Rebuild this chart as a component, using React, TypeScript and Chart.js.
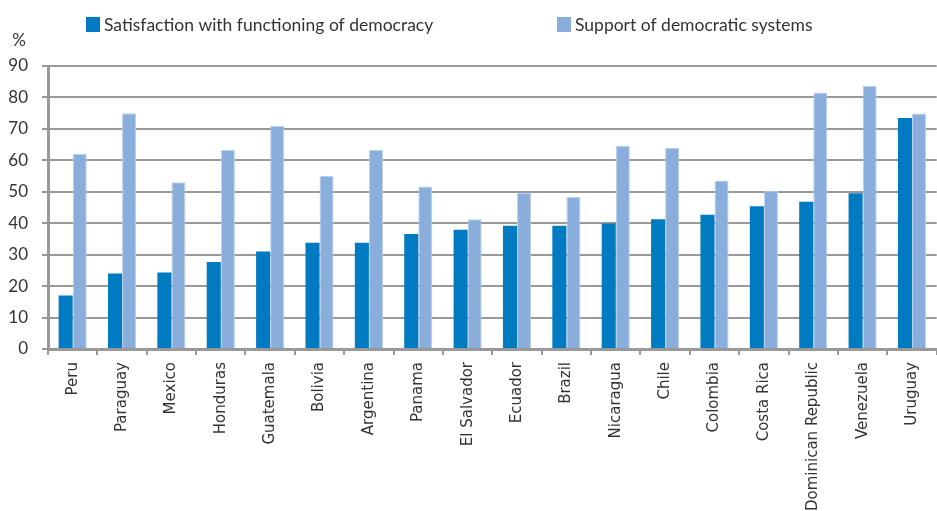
import React, { useEffect, useRef } from "react";
import { Chart, registerables } from "chart.js";

Chart.register(...registerables);

const countries = [
  "Peru", "Paraguay", "Mexico", "Honduras", "Guatemala", "Bolivia", "Argentina",
  "Panama", "El Salvador", "Ecuador", "Brazil", "Nicaragua", "Chile", "Colombia",
  "Costa Rica", "Dominican Republic", "Venezuela", "Uruguay",
];
const satisfaction = [17, 24, 24.3, 27.7, 31, 33.8, 33.8, 36.6, 37.9, 39.2, 39.2, 39.9, 41.3, 42.7, 45.4, 46.8, 49.5, 73.5];
const support = [62, 75, 53, 63.3, 70.9, 55.1, 63.3, 51.7, 41.3, 49.6, 48.3, 64.6, 64, 53.6, 50.3, 81.6, 83.7, 74.9];
const seriesNames = ["Satisfaction with functioning of democracy", "Support of democratic systems"];
const seriesColors = ["#007BC2", "#8AAEDC"];
const yMin = 0;
const yMax = 90;
const yStep = 10;
const unitLabel = "%";

const legendPlugin = {
  id: "customLegend",
  afterDraw(chart: any) {
    const ctx = chart.ctx;
    ctx.save();
    const starts = [86, 557];
    chart.data.datasets.forEach((ds: any, i: number) => {
      const x = starts[i];
      ctx.fillStyle = ds.backgroundColor;
      ctx.fillRect(x, 17, 14, 15);
      ctx.fillStyle = "#333333";
      ctx.font = "17.5px Lato, 'Open Sans', sans-serif";
      ctx.textBaseline = "middle";
      ctx.textAlign = "left";
      ctx.fillText(ds.label, x + 18, 25);
    });
    ctx.font = "17px Lato, 'Open Sans', sans-serif";
    ctx.fillStyle = "#333333";
    ctx.textAlign = "center";
    ctx.textBaseline = "middle";
    ctx.fillText(unitLabel, 19, 41);
    ctx.restore();
  },
};

export default function App() {
  const ref = useRef<HTMLCanvasElement | null>(null);
  useEffect(() => {
    document.body.style.margin = "0";
    const canvas = ref.current;
    if (!canvas) return;
    const chart = new Chart(canvas, {
      type: "bar",
      data: {
        labels: countries,
        datasets: [
          {
            label: seriesNames[0],
            data: satisfaction,
            backgroundColor: seriesColors[0],
            borderWidth: 0,
            categoryPercentage: 0.57,
            barPercentage: 1,
          },
          {
            label: seriesNames[1],
            data: support,
            backgroundColor: seriesColors[1],
            borderColor: "#BCD1EC",
            borderWidth: 1,
            categoryPercentage: 0.57,
            barPercentage: 1,
          },
        ],
      },
      options: {
        animation: false,
        responsive: true,
        maintainAspectRatio: false,
        layout: { padding: { top: 66, left: 0, right: 0, bottom: 0 } },
        plugins: {
          legend: { display: false },
          title: { display: false },
          tooltip: { enabled: false },
        },
        scales: {
          x: {
            afterFit(scale: any) {
              scale.height = 162;
            },
            grid: {
              display: true,
              drawOnChartArea: false,
              drawTicks: true,
              tickLength: 6,
              color: "#999999",
              lineWidth: 2,
              offset: true,
            },
            border: { display: true, color: "#999999", width: 3 },
            ticks: {
              autoSkip: false,
              minRotation: 90,
              maxRotation: 90,
              padding: 7,
              color: "#333333",
              font: { family: "'DejaVu Sans', sans-serif", size: 15 },
            },
          },
          y: {
            min: yMin,
            max: yMax,
            afterFit(scale: any) {
              scale.width = 48;
            },
            grid: {
              color: "#999999",
              lineWidth: 2,
              borderDash: [9, 6],
              tickBorderDash: [],
              tickLength: 6,
              tickColor: "#999999",
              drawTicks: true,
            },
            border: { display: true, color: "#999999", width: 3 },
            ticks: {
              stepSize: yStep,
              padding: 14,
              color: "#333333",
              font: { family: "Lato, 'Open Sans', sans-serif", size: 17 },
            },
          },
        },
      },
      plugins: [legendPlugin],
    });
    return () => chart.destroy();
  }, []);
  return (
    <div style={{ position: "relative", width: "937px", height: "511px", overflow: "hidden" }}>
      <canvas ref={ref} />
    </div>
  );
}
